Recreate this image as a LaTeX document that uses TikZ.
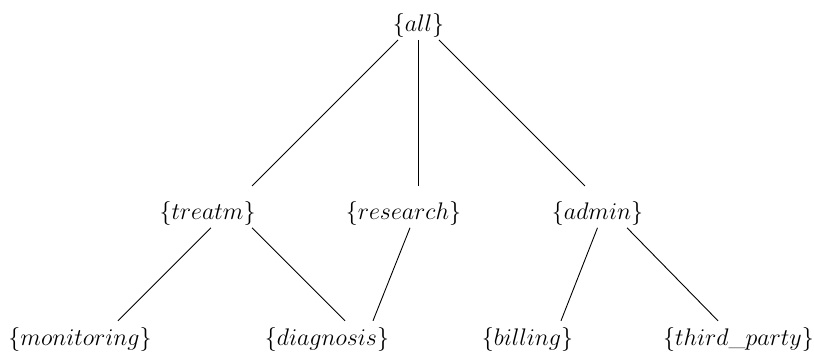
\documentclass[tikz,border=0pt]{standalone}
\usepackage{amsmath}
\usepackage{tikz}
\usetikzlibrary{positioning}

\begin{document}
\begin{tikzpicture}[
    x=0.5pt, y=-0.5pt,
    elem/.style={inner xsep=0pt, inner ysep=0pt, text height=16.6pt, text depth=3.9pt,
                 font=\fontsize{11.5}{14}\selectfont},
    leaf/.style={elem, text height=12.3pt},
    link/.style={draw=black, line width=0.45pt}
]
\useasboundingbox (0,0) rectangle (814,356);

% Top
\node[elem, anchor=south] (all) at (418.5,40) {$\{all\}$};

% Middle row
\node[elem, below=73pt of all, xshift=-105.5pt] (treatm) {$\{treatm\}$};
\node[elem, below=73pt of all, xshift=-7.5pt] (research) {$\{research\}$};
\node[elem, below=73pt of all, xshift=89.5pt] (admin) {$\{admin\}$};

% Bottom row
\node[leaf, below=46.5pt of treatm, xshift=-63.75pt] (monitoring) {$\{monitoring\}$};
\node[leaf, below=46.5pt of treatm, xshift=59.75pt] (diagnosis) {$\{diagnosis\}$};
\node[leaf, below=46.5pt of admin, xshift=-35pt] (billing) {$\{billing\}$};
\node[leaf, below=46.5pt of admin, xshift=70.5pt] (thirdparty) {$\{third\_party\}$};

% From all
\draw[link] ([xshift=-10.25pt]all.south) -- ([xshift=22.25pt]treatm.north);
\draw[link] (all.south) -- (all.south |- research.north);
\draw[link] ([xshift=10.25pt]all.south) -- ([xshift=-6.25pt]admin.north);

% From treatm, research, admin
\draw[link] ([xshift=1.75pt]treatm.south) -- ([xshift=19pt]monitoring.north);
\draw[link] ([xshift=22.25pt]treatm.south) -- ([xshift=9pt]diagnosis.north);
\draw[link] ([xshift=3.25pt]research.south) -- ([xshift=23pt]diagnosis.north);
\draw[link] (admin.south) -- ([xshift=16.75pt]billing.north);
\draw[link] ([xshift=14.75pt]admin.south) -- ([xshift=-10.25pt]thirdparty.north);

\end{tikzpicture}
\end{document}
